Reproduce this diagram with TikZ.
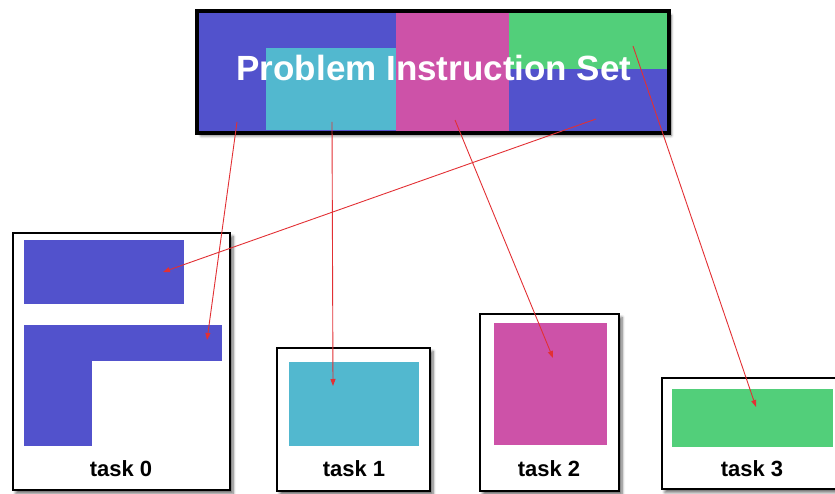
\documentclass[tikz,border=0pt]{standalone}
\usepackage{fontspec}
\setmainfont{Liberation Sans}
\usetikzlibrary{positioning,arrows.meta,shadows.blur}
\definecolor{pblue}{RGB}{82,82,204}
\definecolor{pcyan}{RGB}{82,184,207}
\definecolor{pmag}{RGB}{205,82,168}
\definecolor{pgreen}{RGB}{82,207,122}
\definecolor{arrred}{RGB}{226,48,52}

\begin{document}
\begin{tikzpicture}[
  x=1pt, y=-1pt,
  frame/.style={draw=black, line width=2.8pt, fill=white, inner sep=0pt,
    blur shadow={shadow xshift=3pt, shadow yshift=-3.5pt, shadow blur steps=6,
      shadow blur radius=3pt, shadow opacity=60}},
  blk/.style={inner sep=0pt, outer sep=0pt},
  lbl/.style={font=\bfseries\fontsize{22}{24}\selectfont, anchor=base},
  arr/.style={-{Triangle[length=7pt,width=5pt]}, draw=arrred, line width=0.9pt}
]
\useasboundingbox (0,0) rectangle (835,494);

% problem instruction set
\node[frame, fill=pblue, minimum width=470pt, minimum height=120pt] (set) at (433,72) {};
\node[blk, fill=pcyan, minimum width=130pt, minimum height=82pt] (sc) at (331,89.5) {};
\node[blk, fill=pmag, minimum width=113pt, minimum height=117.5pt] (sm) at (452.5,72) {};
\node[blk, fill=pgreen, minimum width=157.75pt, minimum height=55.75pt] (sg) at (587.9,41.1) {};
\draw[black, line width=2.8pt] (set.north west) rectangle (set.south east);
\node[anchor=base, text=white, font=\bfseries\fontsize{35}{38}\selectfont] (title) at (434,81) {Problem Instruction Set};

% tasks
\node[frame, minimum width=217pt, minimum height=257pt] (t0) at (121.5,361.5) {};
\node[blk, fill=pblue, minimum width=160pt, minimum height=64pt] (b0a) at (104,272) {};
\node[blk, fill=pblue, minimum width=198pt, minimum height=36pt] (b0b) at (123,343) {};
\node[blk, fill=pblue, minimum width=68pt, minimum height=85.5pt] (b0c) at (58,403.5) {};
\node[lbl] (l0) at (121,476) {task 0};

\node[frame, minimum width=153pt, minimum height=143pt] (t1) at (353.5,419.5) {};
\node[blk, fill=pcyan, minimum width=130pt, minimum height=84pt] (b1) at (354,404) {};
\node[lbl] (l1) at (354,476) {task 1};

\node[frame, minimum width=139pt, minimum height=177pt] (t2) at (549.5,402.5) {};
\node[blk, fill=pmag, minimum width=113pt, minimum height=122pt] (b2) at (550.5,384) {};
\node[lbl] (l2) at (549,476) {task 2};

\node[frame, minimum width=183pt, minimum height=111pt] (t3) at (753.5,433.5) {};
\node[blk, fill=pgreen, minimum width=161pt, minimum height=58pt] (b3) at (752.5,418) {};
\node[lbl] (l3) at (752,476) {task 3};

% mapping
\coordinate (s0) at (237,122); \coordinate (e0) at (207,340);
\coordinate (s1) at (332,122); \coordinate (e1) at (333,386);
\coordinate (s2) at (455,120); \coordinate (e2) at (553,358);
\coordinate (s3) at (596,119); \coordinate (e3) at (163,272);
\coordinate (s4) at (633,46);  \coordinate (e4) at (756,407);

\draw[arr] (s0) -- (e0);
\draw[arr] (s1) -- (e1);
\draw[arr] (s2) -- (e2);
\draw[arr] (s3) -- (e3);
\draw[arr] (s4) -- (e4);
\end{tikzpicture}
\end{document}
